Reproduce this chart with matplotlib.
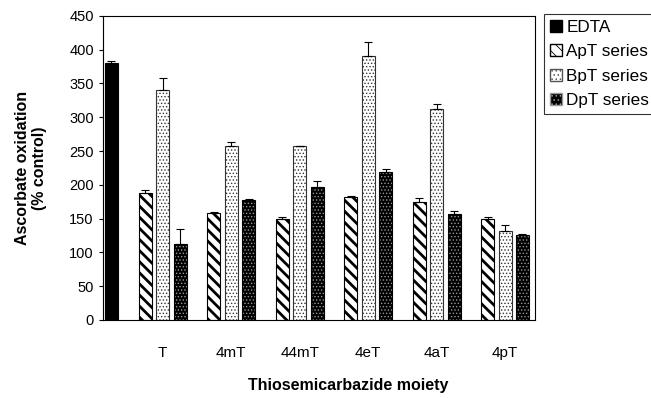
import numpy as np
import matplotlib
matplotlib.use("Agg")
import matplotlib.pyplot as plt
from matplotlib.patches import Patch

plt.rcParams['font.family'] = ['Liberation Sans', 'DejaVu Sans']

categories = ["T", "4mT", "44mT", "4eT", "4aT", "4pT"]
edta_val = 381
edta_err = 3
apt_vals = [188, 159, 149, 182, 174, 149]
apt_err = [5, 1, 3, 1, 6, 3]
bpt_vals = [340, 258, 258, 390, 312, 131]
bpt_err = [18, 5, 0, 21, 8, 10]
dpt_vals = [112, 177, 197, 219, 157, 126]
dpt_err = [22, 2, 8, 5, 4, 1]

x = np.arange(1, len(categories) + 1)
w = 0.19
off = 0.255

fig = plt.figure(figsize=(6.51, 3.98), dpi=100)
ax = fig.add_axes([0.158, 0.196, 0.664, 0.764])

ekw = dict(ecolor='black', elinewidth=0.8, capsize=3, capthick=0.8)

# EDTA
ax.bar(0.248, edta_val, w, color='black', edgecolor='black', lw=0.8,
       yerr=[[0], [edta_err]], error_kw=ekw)

# ApT - thick diagonal stripes
plt.rcParams['hatch.linewidth'] = 2.0
ax.bar(x - off, apt_vals, w, facecolor='white', edgecolor='black', lw=0.8,
       hatch='\\\\\\', yerr=[np.zeros(6), apt_err], error_kw=ekw)

# BpT - fine dots on white
plt.rcParams['hatch.linewidth'] = 0.6
ax.bar(x, bpt_vals, w, facecolor='white', edgecolor='#333333', lw=0.8,
       hatch='.....', yerr=[np.zeros(6), bpt_err], error_kw=ekw)

# DpT - black with white dots
ax.bar(x + off, dpt_vals, w, facecolor='black', edgecolor='#999999', lw=0,
       hatch='.....')
ax.bar(x + off, dpt_vals, w, fill=False, edgecolor='black', lw=0.8,
       yerr=[np.zeros(6), dpt_err], error_kw=ekw)

ax.set_xlim(0.124, 6.44)
ax.set_ylim(0, 450)
ax.set_yticks(np.arange(0, 451, 50))
ax.set_xticks(x)
ax.set_xticklabels(categories, fontsize=11)
ax.tick_params(axis='x', length=0, pad=19)
ax.tick_params(axis='y', labelsize=10.5, length=3, width=0.8, direction='out')
for s in ax.spines.values():
    s.set_linewidth(0.8)
ax.spines['left'].set_linestyle((0, (1, 0.5)))

ax.set_ylabel("Ascorbate oxidation\n(% control)", fontsize=11.5, fontweight='bold',
              labelpad=16, linespacing=1.15)
ax.set_xlabel("Thiosemicarbazide moiety", fontsize=11.5, fontweight='bold', labelpad=13,
              x=0.567)

handles = [
    Patch(facecolor='black', edgecolor='black'),
    Patch(facecolor='white', edgecolor='black', hatch='\\\\\\'),
    Patch(facecolor='white', edgecolor='#555555', hatch='....'),
    Patch(facecolor='black', edgecolor='#999999', hatch='....'),
]
labels = ["EDTA", "ApT series", "BpT series", "DpT series"]
leg = fig.legend(handles, labels, loc='upper left', bbox_to_anchor=(0.836, 0.965),
                 fontsize=12.3, frameon=True, fancybox=False, edgecolor='black',
                 handlelength=0.7, handleheight=0.7, handletextpad=0.25,
                 borderpad=0.35, labelspacing=0.55, borderaxespad=0)
leg.get_frame().set_linewidth(0.8)

fig.savefig("out.png", dpi=100)
